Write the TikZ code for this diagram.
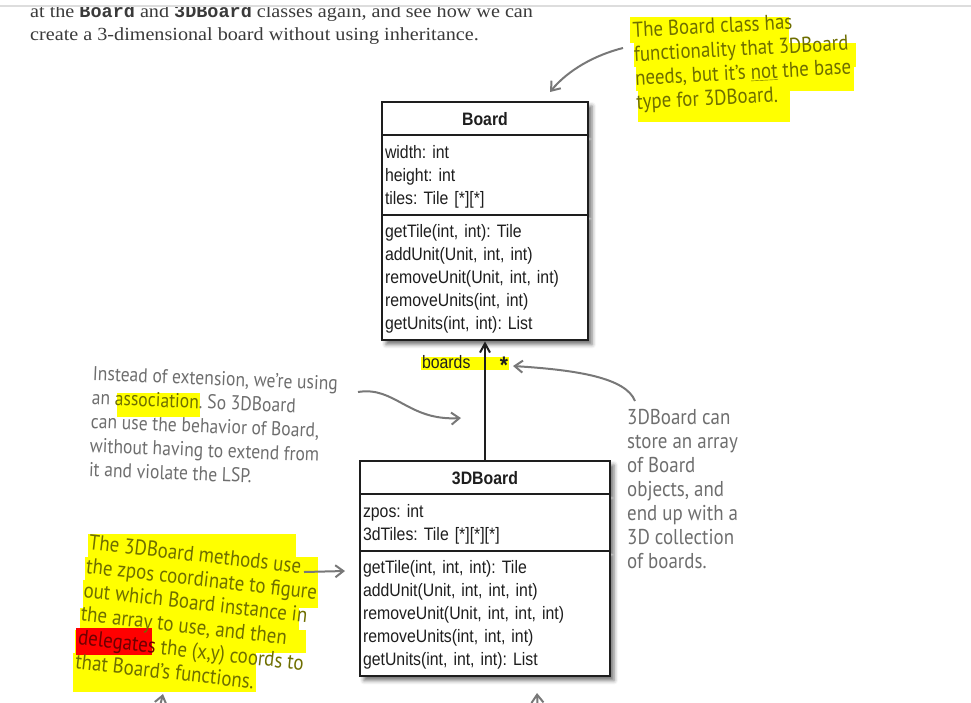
\documentclass[tikz,border=0pt]{standalone}
\usepackage{fontspec}
\setmainfont{Liberation Serif}
\newfontfamily\introfont[FakeStretch=1.09]{Liberation Serif}
\newfontfamily\umlfont[FakeStretch=0.88]{Liberation Sans}
\newfontfamily\handfont[FakeStretch=0.88]{PT Sans}
\newfontfamily\codefont{Liberation Mono}
\usetikzlibrary{arrows.meta, shapes.multipart, shadows.blur}
\definecolor{cink}{HTML}{1E1E1E}
\definecolor{ctext}{HTML}{3A3A3A}
\definecolor{cpen}{HTML}{6E6E6E}
\definecolor{cpenhl}{HTML}{6E6E00}
\definecolor{cpenred}{HTML}{6E0000}
\definecolor{chl}{HTML}{FFFF00}
\definecolor{cred}{HTML}{FF0000}
\definecolor{carrow}{HTML}{787878}
\definecolor{crule}{HTML}{DDDDDD}
\newcommand{\umlstrut}{\rule[-3pt]{0pt}{19pt}}
\frenchspacing
\tikzset{
  umlclass/.style={draw=cink, line width=2pt, fill=white, rectangle split, rectangle split parts=3, inner xsep=3pt, inner ysep=6pt, align=left, text=cink, font=\umlfont\fontsize{18}{23}\selectfont, blur shadow={shadow xshift=4pt, shadow yshift=-4pt, shadow blur radius=4pt, shadow opacity=55}},
  note/.style={font=\handfont\fontsize{21.5}{24}\selectfont, text=cpen, align=left, inner sep=0pt, anchor=north west},
  pen/.style={-{Straight Barb[length=8pt, width=12pt]}, draw=carrow, line width=2pt},
  assoc/.style={-{Straight Barb[length=9pt, width=10pt]}, draw=cink, line width=2pt},
  marker/.style={fill=#1, draw=none},
  marker/.default=chl,
}

\begin{document}
\begin{tikzpicture}[x=1pt, y=-1pt]
  \useasboundingbox (0,0) rectangle (971,702);
  \clip (0,0) rectangle (971,702);
  \draw[crule, line width=1.5pt] (0,6) -- (971,6);
  \begin{scope}
    \clip (0,7) rectangle (971,702);
    \node[anchor=base west, inner sep=0pt, text=ctext, font=\introfont\fontsize{18.5}{23}\selectfont] (intro1) at (30,17) {at the {\codefont\bfseries Board} and {\codefont\bfseries 3DBoard} classes again, and see how we can};
    \node[anchor=base west, inner sep=0pt, text=ctext, font=\introfont\fontsize{18.5}{23}\selectfont] (intro2) at (30,40) {create a 3-dimensional board without using inheritance.};
  \end{scope}

  \fill[marker] (630,17) rectangle (789,43);
  \fill[marker] (634,43) rectangle (856,67);
  \fill[marker] (636,67) rectangle (854,91);
  \fill[marker] (638,91) rectangle (790,122);
  \fill[marker] (117,393) rectangle (200,417);
  \fill[marker] (88,534) rectangle (296,557);
  \fill[marker] (85,557) rectangle (318,580);
  \fill[marker] (83,580) rectangle (318,608);
  \fill[marker] (80,608) rectangle (299,630);
  \fill[marker] (75,630) rectangle (306,653);
  \fill[marker] (73,653) rectangle (256,692);
  \fill[marker=cred] (76,628) rectangle (152,655);

  \node[note, text=cpenhl, rotate=3] (why) at (632,22) {The Board class has\\functionality that 3DBoard\\needs, but it’s \underline{not} the base\\type for 3DBoard.};
  \node[note, font=\handfont\fontsize{20}{24}\selectfont, rotate=-2.3] (assocnote) at (93,366) {Instead of extension, we’re using\\an \textcolor{cpenhl}{association}. So 3DBoard\\can use the behavior of Board,\\without having to extend from\\it and violate the LSP.};
  \node[note] (store) at (627,409) {3DBoard can\\store an array\\of Board\\objects, and\\end up with a\\3D collection\\of boards.};
  \node[note, text=cpenhl, rotate=-6.5] (zposnote) at (90,534) {The 3DBoard methods use\\the zpos coordinate to figure\\out which Board instance in\\the array to use, and then\\\textcolor{cpenred}{delegates} the (x,y) coords to\\that Board’s functions.};

  \node[umlclass, text width=200pt, anchor=north] (board) at (485,101) {\umlstrut\hfill\textbf{Board}\hfill\umlstrut
    \nodepart{second}\umlstrut width: int\\height: int\\tiles: Tile [*][*]\umlstrut
    \nodepart{third}\umlstrut getTile(int, int): Tile\\addUnit(Unit, int, int)\\removeUnit(Unit, int, int)\\removeUnits(int, int)\\getUnits(int, int): List\umlstrut};
  \node[umlclass, text width=244pt, anchor=north] (board3d) at (485,460) {\umlstrut\hfill\textbf{3DBoard}\hfill\umlstrut
    \nodepart{second}\umlstrut zpos: int\\3dTiles: Tile [*][*][*]\umlstrut
    \nodepart{third}\umlstrut getTile(int, int, int): Tile\\addUnit(Unit, int, int, int)\\removeUnit(Unit, int, int, int)\\removeUnits(int, int, int)\\getUnits(int, int, int): List\umlstrut};

  \node[fill=chl, inner xsep=1pt, inner ysep=0pt, text width=86pt, text height=11pt, text depth=2pt, text=cink, font=\umlfont\fontsize{18}{23}\selectfont] (mult) at (465,363.5) {boards\hfill\raisebox{-5pt}{\fontsize{24}{24}\selectfont\bfseries *}\hspace{3pt}};
  \draw[assoc] (board3d.north) -- (board.south);

  \coordinate (whyfrom) at (623,48);
  \coordinate (whyto) at (550,92);
  \coordinate (assocfrom) at (358,392);
  \coordinate (assocto) at (461,418);
  \coordinate (storefrom) at (635,401);
  \coordinate (storeto) at (513,366);
  \coordinate (zposfrom) at (304,572);
  \coordinate (zposto) at (345,571);
  \coordinate (lowleft) at (158,714);
  \coordinate (lowleftto) at (163,694);
  \coordinate (lowmid) at (538,714);
  \coordinate (lowmidto) at (537,693);
  \draw[pen] (whyfrom) .. controls (595,55) and (568,70) .. (whyto);
  \draw[pen] (assocfrom) .. controls (395,386) and (408,421) .. (assocto);
  \draw[pen] (storefrom) .. controls (626,378) and (578,370) .. (storeto);
  \draw[pen] (zposfrom) -- (zposto);
  \draw[pen] (lowleft) -- (lowleftto);
  \draw[pen] (lowmid) -- (lowmidto);
\end{tikzpicture}
\end{document}
